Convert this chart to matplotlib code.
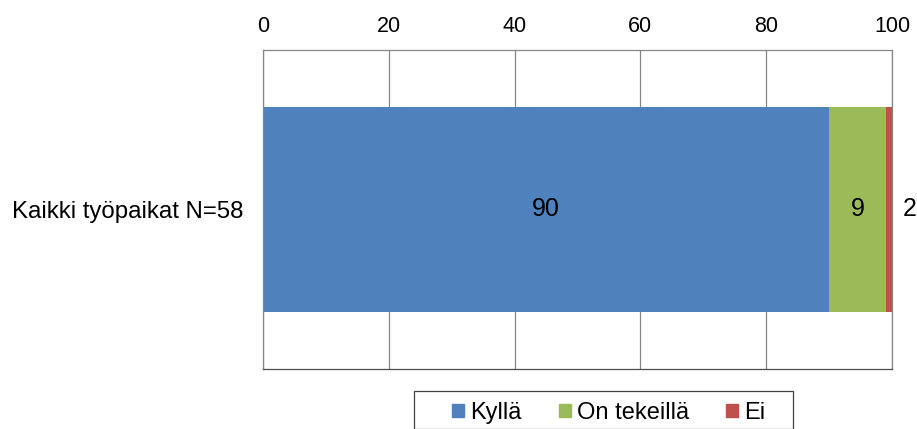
import matplotlib
matplotlib.use("Agg")
import matplotlib.pyplot as plt
from matplotlib.patches import Patch, Rectangle

plt.rcParams['font.family'] = ['Liberation Sans', 'DejaVu Sans']

categories = ["Kaikki työpaikat N=58"]
series_names = ["Kyllä", "On tekeillä", "Ei"]
values = [90, 9, 2]
colors = ["#4F81BD", "#9BBB59", "#C0504D"]
xticks = [0, 20, 40, 60, 80, 100]

W, H = 917, 429
fig = plt.figure(figsize=(W/100, H/100), dpi=100)
ax = fig.add_axes([263/W, 1-369/H, (892-263)/W, (369-50)/H])

left = 0
for name, v, c in zip(series_names, values, colors):
    ax.barh(0, v, left=left, height=0.645, color=c, label=name)
    center = left + v / 2
    if left + v > 100:
        ax.annotate(str(v), xy=(100, 0), xytext=(12.7, 0), textcoords='offset points',
                    ha='center', va='center', fontsize=18, annotation_clip=False)
    else:
        ax.text(center, 0, str(v), ha='center', va='center', fontsize=18)
    left += v

ax.set_xlim(0, 100)
ax.set_ylim(-0.5, 0.5)
ax.set_xticks(xticks)
ax.xaxis.tick_top()
ax.tick_params(axis='x', length=0, pad=9.5, labelsize=15.5)
ax.set_yticks([0])
ax.set_yticklabels(categories, fontsize=17.3)
ax.tick_params(axis='y', length=0, pad=14.4)
ax.grid(axis='x', color='#868686', linewidth=0.9)
ax.set_axisbelow(True)
for s in ax.spines.values():
    s.set_color('#868686')
    s.set_linewidth(0.9)
ax.spines['bottom'].set_color('#4d4d4d')

handles = [Patch(color=c, label=n) for n, c in zip(series_names, colors)]
leg = fig.legend(handles=handles, loc='center left', bbox_to_anchor=(452/W, 1-413/H),
                 ncol=3, frameon=False, fontsize=17, handlelength=0.5, handleheight=0.5,
                 columnspacing=1.6, handletextpad=0.25, borderpad=0, borderaxespad=0)
fig.patches.append(Rectangle((414/W, 0), (793-414)/W, (H-395)/H + 0.01,
                             transform=fig.transFigure, fill=False,
                             edgecolor='#404040', linewidth=0.9, clip_on=False))

fig.savefig("out.png", dpi=100)
